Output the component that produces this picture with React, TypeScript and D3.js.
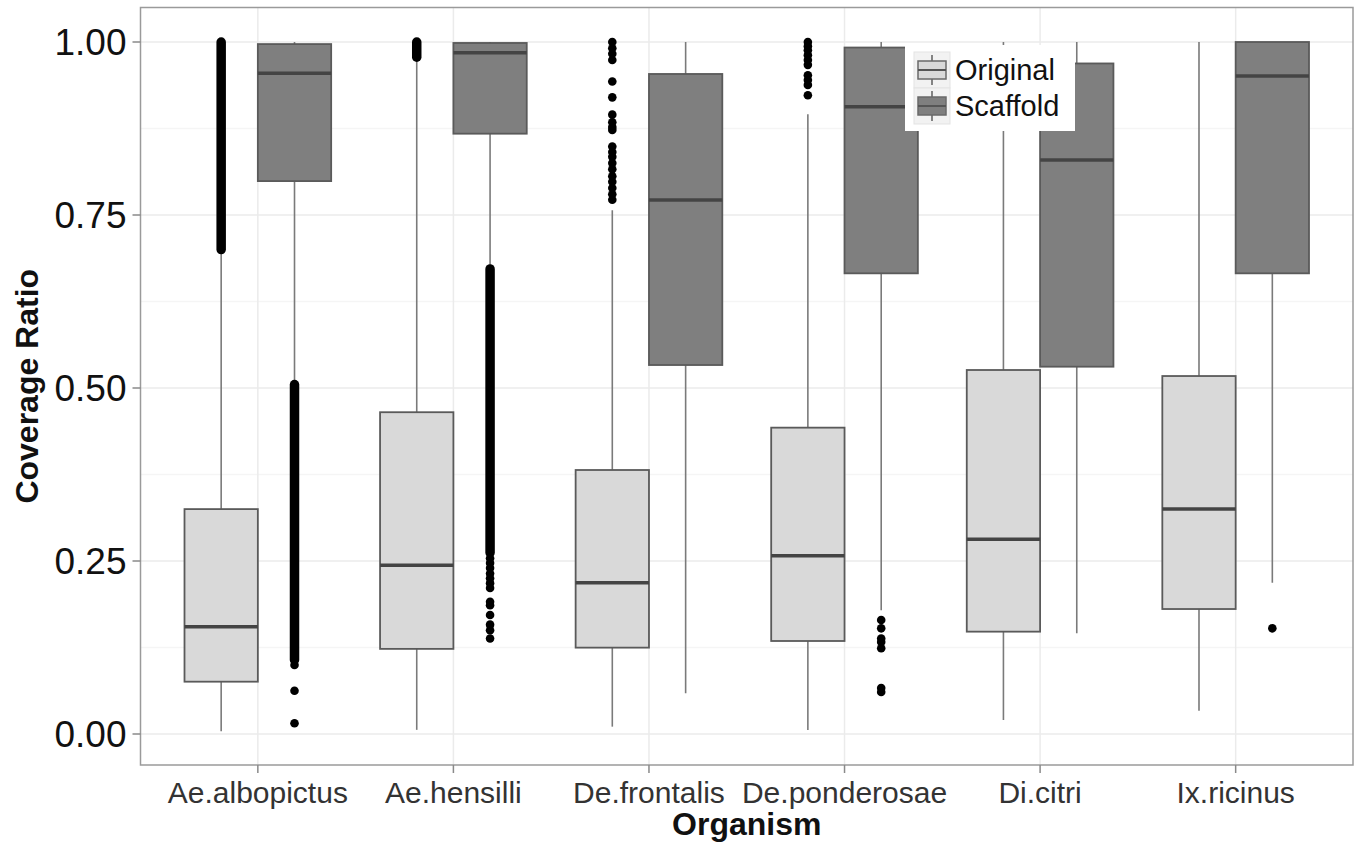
import { useEffect, useRef } from "react";
import * as d3 from "d3";

const organisms = [
  "Ae.albopictus",
  "Ae.hensilli",
  "De.frontalis",
  "De.ponderosae",
  "Di.citri",
  "Ix.ricinus",
];
const groups = ["Original", "Scaffold"];
const groupFill = ["#d9d9d9", "#7f7f7f"];

// [lower whisker, Q1, median, Q3, upper whisker]
const originalStats = [
  [0.004, 0.0756, 0.155, 0.325, 0.697],
  [0.006, 0.123, 0.244, 0.465, 0.975],
  [0.0106, 0.1248, 0.2187, 0.3815, 0.757],
  [0.0058, 0.1344, 0.2577, 0.4427, 0.8955],
  [0.0202, 0.1479, 0.2813, 0.526, 1.0],
  [0.0337, 0.1806, 0.325, 0.5173, 1.0],
];
const scaffoldStats = [
  [0.509, 0.799, 0.955, 0.997, 1.0],
  [0.675, 0.8675, 0.9846, 0.9986, 1.0],
  [0.0588, 0.5332, 0.7717, 0.9538, 1.0],
  [0.179, 0.6657, 0.9065, 0.992, 1.0],
  [0.1455, 0.5308, 0.8295, 0.969, 1.0],
  [0.2187, 0.6657, 0.951, 1.0, 1.0],
];

// single outlier points
const originalOutliers = [
  [],
  [],
  [1.0, 0.991, 0.983, 0.974, 0.943, 0.92, 0.895, 0.884, 0.877, 0.873, 0.849, 0.841, 0.834, 0.825, 0.816, 0.806, 0.798, 0.789, 0.78, 0.772],
  [1.0, 0.994, 0.988, 0.981, 0.974, 0.967, 0.952, 0.945, 0.938, 0.923],
  [],
  [],
];
const scaffoldOutliers = [
  [0.0997, 0.0626, 0.0155],
  [0.254, 0.247, 0.24, 0.232, 0.225, 0.218, 0.211, 0.191, 0.186, 0.172, 0.158, 0.15, 0.138],
  [],
  [0.1647, 0.1527, 0.138, 0.133, 0.124, 0.0665, 0.0607],
  [],
  [0.1527],
];
// outliers so dense they merge into a solid bar: [from, to]
const originalOutlierRuns = [[[0.7, 1.0]], [[0.978, 1.0]], [], [], [], []];
const scaffoldOutlierRuns = [[[0.107, 0.505]], [[0.262, 0.672]], [], [], [], []];

const yTicks = [0, 0.25, 0.5, 0.75, 1];
const yMinorTicks = [0.125, 0.375, 0.625, 0.875];

const FONT = "'Liberation Sans', Arial, Helvetica, sans-serif";

const App = () => {
  const svgRef = useRef<SVGSVGElement | null>(null);

  useEffect(() => {
    const width = 1360;
    const height = 848;
    const panel = { left: 140.5, right: 1353, top: 7.5, bottom: 765 };

    const svg = d3.select(svgRef.current);
    svg.selectAll("*").remove();
    svg.attr("width", width).attr("height", height);

    const x = d3
      .scalePoint()
      .domain(organisms)
      .range([panel.left, panel.right])
      .padding(0.6);
    const step = x.step();
    const boxW = step * 0.375;

    const y = d3.scaleLinear().domain([0, 1]).range([734, 42]);

    svg
      .append("rect")
      .attr("x", panel.left)
      .attr("y", panel.top)
      .attr("width", panel.right - panel.left)
      .attr("height", panel.bottom - panel.top)
      .attr("fill", "white");

    // grid
    const grid = svg.append("g");
    grid
      .selectAll(".minor")
      .data(yMinorTicks)
      .enter()
      .append("line")
      .attr("x1", panel.left)
      .attr("x2", panel.right)
      .attr("y1", (d) => y(d))
      .attr("y2", (d) => y(d))
      .attr("stroke", "#f5f5f5")
      .attr("stroke-width", 1.5);
    grid
      .selectAll(".major")
      .data(yTicks)
      .enter()
      .append("line")
      .attr("x1", panel.left)
      .attr("x2", panel.right)
      .attr("y1", (d) => y(d))
      .attr("y2", (d) => y(d))
      .attr("stroke", "#ebebeb")
      .attr("stroke-width", 1.5);
    grid
      .selectAll(".vmajor")
      .data(organisms)
      .enter()
      .append("line")
      .attr("x1", (d) => x(d)!)
      .attr("x2", (d) => x(d)!)
      .attr("y1", panel.top)
      .attr("y2", panel.bottom)
      .attr("stroke", "#ebebeb")
      .attr("stroke-width", 1.5);

    // boxplots
    const statsByGroup = [originalStats, scaffoldStats];
    const outliersByGroup = [originalOutliers, scaffoldOutliers];
    const runsByGroup = [originalOutlierRuns, scaffoldOutlierRuns];

    groups.forEach((grp, gi) => {
      const offset = (gi === 0 ? -0.5 : 0.5) * boxW;
      const g = svg.append("g").attr("class", `box-${grp}`);

      organisms.forEach((org, i) => {
        const cx = x(org)! + offset;
        const [lo, q1, med, q3, hi] = statsByGroup[gi][i];

        // whiskers
        g.append("line")
          .attr("x1", cx)
          .attr("x2", cx)
          .attr("y1", y(q3))
          .attr("y2", y(hi))
          .attr("stroke", "#7a7a7a")
          .attr("stroke-width", 1.6);
        g.append("line")
          .attr("x1", cx)
          .attr("x2", cx)
          .attr("y1", y(q1))
          .attr("y2", y(lo))
          .attr("stroke", "#7a7a7a")
          .attr("stroke-width", 1.6);

        // box
        g.append("rect")
          .attr("x", cx - boxW / 2)
          .attr("y", y(q3))
          .attr("width", boxW)
          .attr("height", y(q1) - y(q3))
          .attr("fill", groupFill[gi])
          .attr("stroke", "#5a5a5a")
          .attr("stroke-width", 1.8);

        // median
        g.append("line")
          .attr("x1", cx - boxW / 2)
          .attr("x2", cx + boxW / 2)
          .attr("y1", y(med))
          .attr("y2", y(med))
          .attr("stroke", "#444")
          .attr("stroke-width", 3.5);

        // outliers
        runsByGroup[gi][i].forEach(([a, b]) => {
          g.append("line")
            .attr("x1", cx)
            .attr("x2", cx)
            .attr("y1", y(a))
            .attr("y2", y(b))
            .attr("stroke", "black")
            .attr("stroke-width", 9.5)
            .attr("stroke-linecap", "round");
        });
        g.selectAll(null)
          .data(outliersByGroup[gi][i])
          .enter()
          .append("circle")
          .attr("cx", cx)
          .attr("cy", (d) => y(d))
          .attr("r", 4.3)
          .attr("fill", "black");
      });
    });

    // panel border
    svg
      .append("rect")
      .attr("x", panel.left)
      .attr("y", panel.top)
      .attr("width", panel.right - panel.left)
      .attr("height", panel.bottom - panel.top)
      .attr("fill", "none")
      .attr("stroke", "#9a9a9a")
      .attr("stroke-width", 1.5);

    // y axis
    const yAxis = svg.append("g");
    yAxis
      .selectAll("line")
      .data(yTicks)
      .enter()
      .append("line")
      .attr("x1", panel.left - 8)
      .attr("x2", panel.left)
      .attr("y1", (d) => y(d))
      .attr("y2", (d) => y(d))
      .attr("stroke", "#8a8a8a")
      .attr("stroke-width", 1.5);
    yAxis
      .selectAll("text")
      .data(yTicks)
      .enter()
      .append("text")
      .attr("x", panel.left - 14)
      .attr("y", (d) => y(d))
      .attr("dy", "0.36em")
      .attr("text-anchor", "end")
      .attr("fill", "#111")
      .style("font-family", FONT)
      .style("font-size", "37px")
      .text((d) => d3.format(".2f")(d));

    // x axis
    const xAxis = svg.append("g");
    xAxis
      .selectAll("line")
      .data(organisms)
      .enter()
      .append("line")
      .attr("x1", (d) => x(d)!)
      .attr("x2", (d) => x(d)!)
      .attr("y1", panel.bottom)
      .attr("y2", panel.bottom + 8)
      .attr("stroke", "#8a8a8a")
      .attr("stroke-width", 1.5);
    xAxis
      .selectAll("text")
      .data(organisms)
      .enter()
      .append("text")
      .attr("x", (d) => x(d)!)
      .attr("y", 803)
      .attr("text-anchor", "middle")
      .attr("fill", "#333")
      .style("font-family", FONT)
      .style("font-size", "30px")
      .text((d) => d);

    // axis titles
    svg
      .append("text")
      .attr("x", (panel.left + panel.right) / 2)
      .attr("y", 835)
      .attr("text-anchor", "middle")
      .attr("fill", "#111")
      .style("font-family", FONT)
      .style("font-size", "32px")
      .style("font-weight", "bold")
      .text("Organism");
    svg
      .append("text")
      .attr("transform", `translate(38,${(panel.top + panel.bottom) / 2}) rotate(-90)`)
      .attr("text-anchor", "middle")
      .attr("fill", "#111")
      .style("font-family", FONT)
      .style("font-size", "32px")
      .style("font-weight", "bold")
      .text("Coverage Ratio");

    // legend
    const legend = svg.append("g");
    legend
      .append("rect")
      .attr("x", 905)
      .attr("y", 45)
      .attr("width", 170)
      .attr("height", 86)
      .attr("fill", "white");
    groups.forEach((grp, gi) => {
      const ky = 52 + gi * 36;
      const k = legend.append("g");
      k.append("rect")
        .attr("x", 914)
        .attr("y", ky)
        .attr("width", 36)
        .attr("height", 36)
        .attr("fill", "#f2f2f2")
        .attr("stroke", "#e3e3e3")
        .attr("stroke-width", 1);
      k.append("line")
        .attr("x1", 932)
        .attr("x2", 932)
        .attr("y1", ky + 3)
        .attr("y2", ky + 33)
        .attr("stroke", "#5e5e5e")
        .attr("stroke-width", 1.5);
      k.append("rect")
        .attr("x", 918)
        .attr("y", ky + 9)
        .attr("width", 28)
        .attr("height", 18)
        .attr("fill", groupFill[gi])
        .attr("stroke", "#6a6a6a")
        .attr("stroke-width", 1.5);
      k.append("line")
        .attr("x1", 918)
        .attr("x2", 946)
        .attr("y1", ky + 18)
        .attr("y2", ky + 18)
        .attr("stroke", "#555")
        .attr("stroke-width", 2);
      legend
        .append("text")
        .attr("x", 955)
        .attr("y", ky + 28)
        .attr("fill", "#111")
        .style("font-family", FONT)
        .style("font-size", "29px")
        .text(grp);
    });
  }, []);

  return (
    <svg
      ref={svgRef}
      style={{ position: "absolute", left: 0, top: 0, background: "white" }}
    ></svg>
  );
};

export default App;
